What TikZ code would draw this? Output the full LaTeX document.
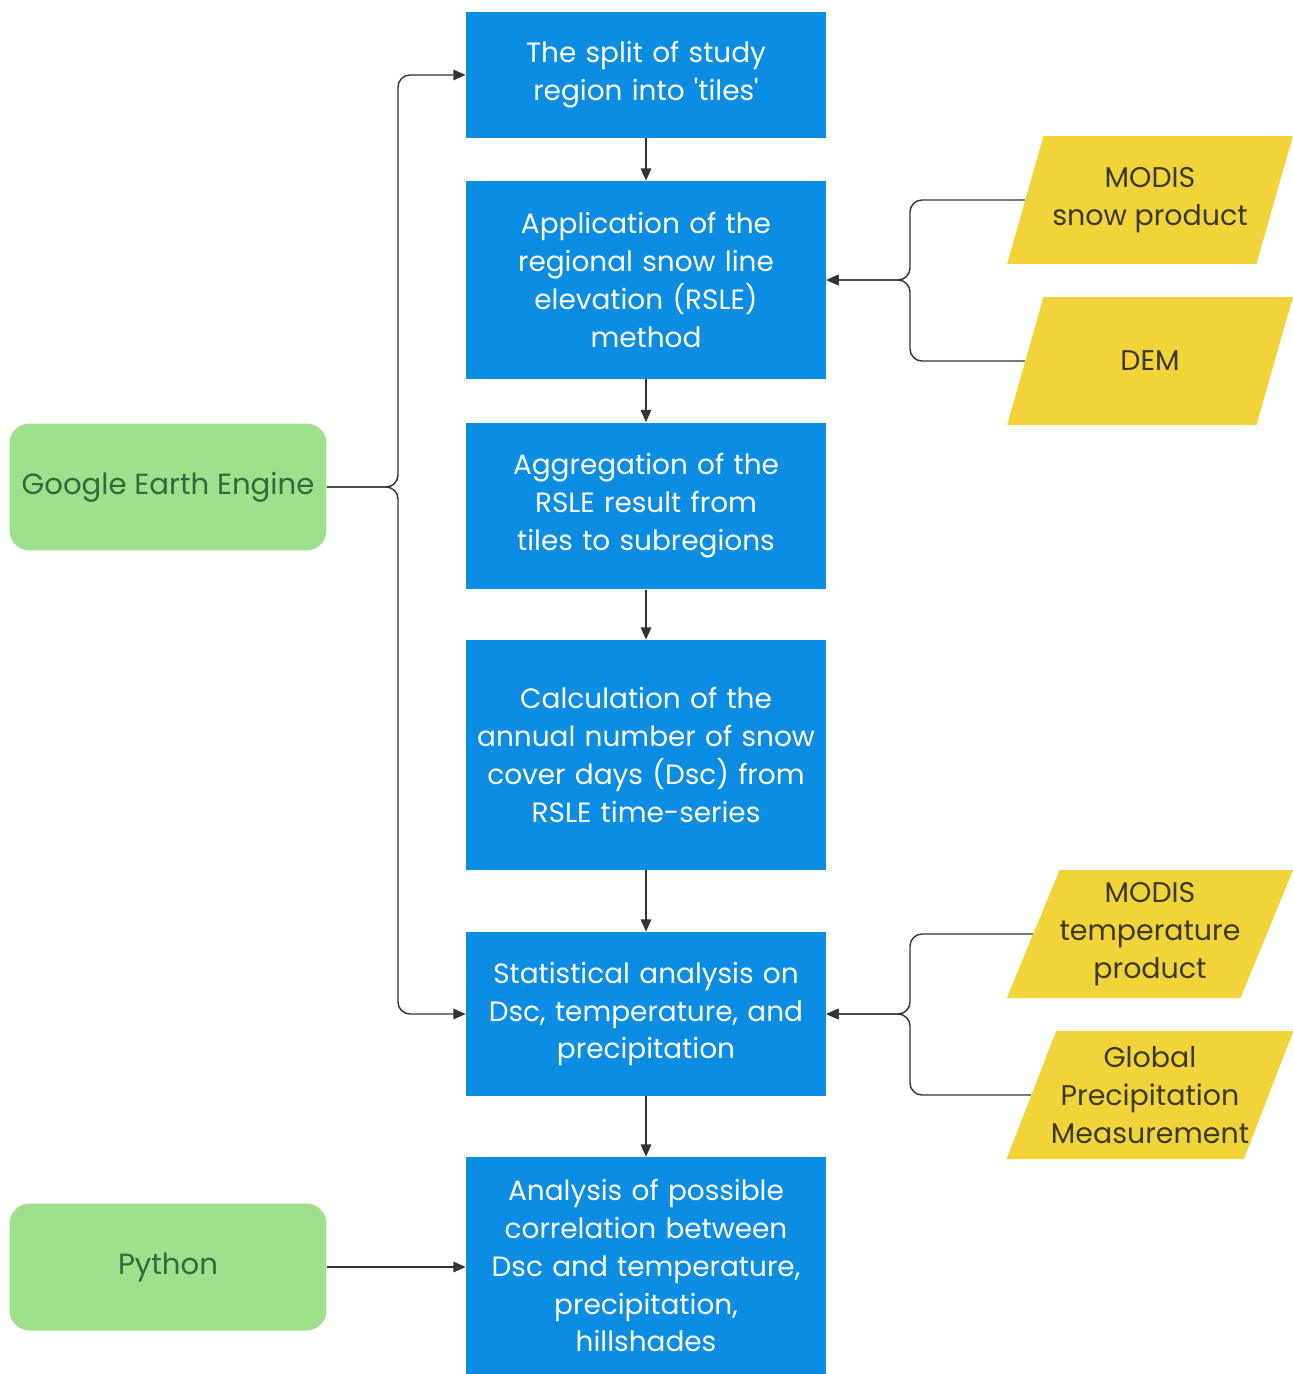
\documentclass[tikz,border=0pt]{standalone}
\usepackage{fontspec}
\setmainfont{Poppins}
\usetikzlibrary{arrows.meta,positioning,shapes.geometric}
\definecolor{procblue}{HTML}{0A8DE2}
\definecolor{toolgreen}{HTML}{9EE08C}
\definecolor{tooltext}{HTML}{2F6B3F}
\definecolor{datayellow}{HTML}{F2D43A}
\definecolor{datatext}{HTML}{3B3A22}
\definecolor{linegray}{HTML}{333333}

\begin{document}
\begin{tikzpicture}[x=0.02cm,y=-0.02cm,
 p/.style={fill=procblue,text=white,align=center,text width=7.1cm,minimum width=7.2cm,inner sep=0pt,font=\fontsize{15.9}{21.6}\selectfont},
 t/.style={fill=toolgreen,text=tooltext,rounded corners=0.4cm,minimum width=6.34cm,minimum height=2.54cm,font=\fontsize{16.6}{21.6}\selectfont},
 d/.style={trapezium,trapezium left angle=63,trapezium right angle=117,trapezium stretches=true,fill=datayellow,text=datatext,align=center,minimum width=5.72cm,minimum height=2.56cm,inner sep=0pt,font=\fontsize{16.2}{21.6}\selectfont},
 a/.style={-{Triangle[length=7pt,width=6pt]},draw=linegray,line width=0.8pt,rounded corners=0.24cm}]
\useasboundingbox (0,0) rectangle (1293,1374);
% processing chain
\node[p,minimum height=2.52cm] (split) at (646,75) {The split of study\\region into \textquotesingle tiles\textquotesingle};
\node[p,minimum height=3.96cm] (rsle) at (646,280) {Application of the\\regional snow line\\elevation (RSLE)\\method};
\node[p,minimum height=3.34cm] (aggr) at (646,506) {Aggregation of the\\RSLE result from\\tiles to subregions};
\node[p,minimum height=4.6cm] (dsc) at (646,755) {Calculation of the\\annual number of snow\\cover days (Dsc) from\\RSLE time-series};
\node[p,minimum height=3.28cm] (stats) at (646,1014) {Statistical analysis on\\Dsc, temperature, and\\precipitation};
\node[p,minimum height=4.34cm] (corr) at (646,1265.5) {Analysis of possible\\correlation between\\Dsc and temperature,\\precipitation,\\hillshades};
% tools
\node[t] (gee) at (168,487) {Google Earth Engine};
\node[t] (python) at (168,1267) {Python};
% input data
\node[d] (snow) at (1150,200) {MODIS\\snow product};
\node[d] (dem) at (1150,361) {DEM};
\node[d] (temp) at (1150,934) {MODIS\\temperature\\product};
\node[d,inner xsep=-3pt] (gpm) at (1150,1095) {Global\\Precipitation\\Measurement};
\coordinate (geejoin) at (398,487);
\coordinate (rslejoin) at (910,280);
\coordinate (statsjoin) at (910,1014);
\draw[a] (split)--(rsle);
\draw[a] (rsle)--(aggr);
\draw[a] (aggr)--(dsc);
\draw[a] (dsc)--(stats);
\draw[a] (stats)--(corr);
\draw[a] (gee.east)--(geejoin)|-(split.west);
\draw[a] (gee.east)--(geejoin)|-(stats.west);
\draw[a] (snow.west)-|(rslejoin)--(rsle.east);
\draw[a] (dem.west)-|(rslejoin)--(rsle.east);
\draw[a] (temp.west)-|(statsjoin)--(stats.east);
\draw[a] (gpm.west)-|(statsjoin)--(stats.east);
\draw[a] (python.east)--(python.east-|corr.west);
\end{tikzpicture}
\end{document}
